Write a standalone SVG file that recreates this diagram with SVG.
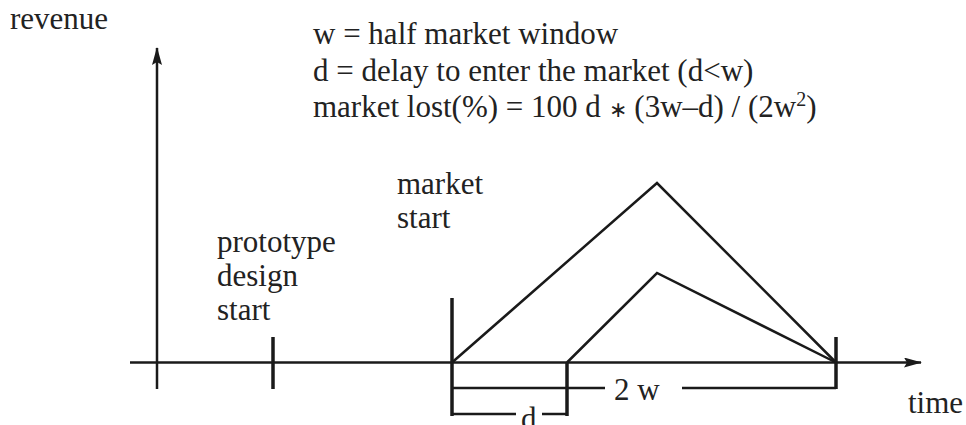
<svg xmlns="http://www.w3.org/2000/svg" width="966" height="425" viewBox="0 0 966 425">
<style>
text{font-family:"Liberation Serif","Times New Roman",serif;font-size:31px;fill:#222}
.ln{stroke:#1a1a1a;stroke-width:2.5;fill:none;stroke-linejoin:miter}
.tk{stroke:#1a1a1a;stroke-width:3.5;fill:none}
</style>
<defs>
<marker id="ah" viewBox="0 0 18 10" refX="17" refY="5" markerWidth="18" markerHeight="10" markerUnits="userSpaceOnUse" orient="auto">
<path d="M0,0 L18,5 L0,10 L3,5 Z" fill="#1a1a1a"/>
</marker>
</defs>
<rect width="966" height="425" fill="#fff"/>
<g id="connectors">
<line class="ln" x1="157" y1="389" x2="157" y2="48" marker-end="url(#ah)"/>
<line class="ln" x1="130" y1="362.5" x2="921" y2="362.5" marker-end="url(#ah)"/>
<polyline class="ln" points="452,362.5 657,183 836,362.5"/>
<polyline class="ln" points="567,362.5 657,273 836,362.5"/>
<line class="tk" x1="273" y1="337" x2="273" y2="389"/>
<line class="tk" x1="452" y1="298" x2="452" y2="416"/>
<line class="tk" x1="567" y1="362" x2="567" y2="416"/>
<line class="tk" x1="836" y1="337" x2="836" y2="389"/>
<polyline class="ln" points="452,388 605,388"/>
<polyline class="ln" points="682,388 836,388"/>
<polyline class="ln" points="452,414 516,414"/>
<polyline class="ln" points="542,414 567,414"/>
</g>
<g id="labels">
<text x="10" y="29">revenue</text>
<text x="313" y="44">w = half market window</text>
<text x="313" y="81">d = delay to enter the market (d&lt;w)</text>
<text x="313" y="117">market lost(%) = 100 d <tspan font-size="22">∗</tspan> (3w–d) / (2w<tspan font-size="20" dy="-11">2</tspan><tspan dy="11">)</tspan></text>
<text x="397" y="194">market</text>
<text x="397" y="228">start</text>
<text x="217" y="252">prototype</text>
<text x="217" y="286">design</text>
<text x="217" y="320">start</text>
<text x="614" y="400">2 w</text>
<text x="521" y="429">d</text>
<text x="908" y="413">time</text>
</g>
</svg>
